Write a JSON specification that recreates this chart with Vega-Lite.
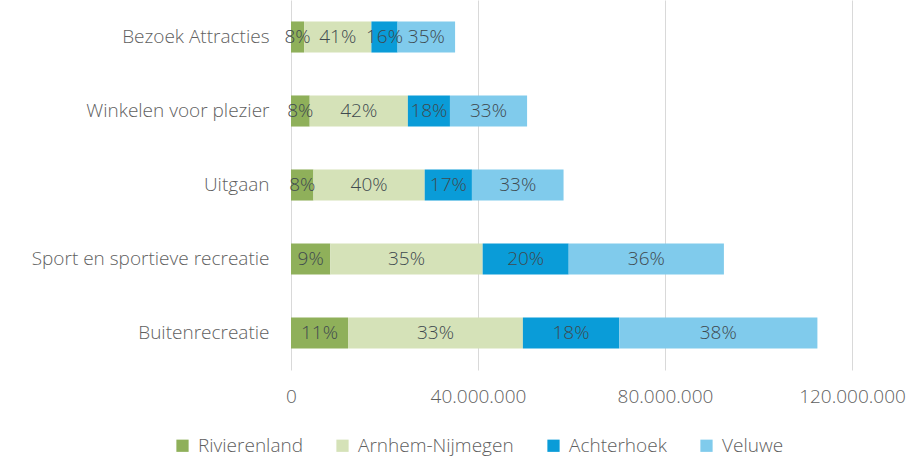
{
  "$schema": "https://vega.github.io/schema/vega-lite/v6.json",
  "width": 561,
  "height": 370,
  "autosize": "none",
  "padding": {"left": 291, "top": 0, "right": 63, "bottom": 92},
  "background": "white",
  "config": {
    "locale": {"number": {"decimal": ",", "thousands": ".", "grouping": [3], "currency": ["€", ""]}},
    "view": {"stroke": null},
    "font": "Open Sans"
  },
  "data": {
    "values": [
      {"activiteit": "Bezoek Attracties", "regio": "Rivierenland", "ord": 1, "waarde": 2800000, "pct": "8%"},
      {"activiteit": "Bezoek Attracties", "regio": "Arnhem-Nijmegen", "ord": 2, "waarde": 14400000, "pct": "41%"},
      {"activiteit": "Bezoek Attracties", "regio": "Achterhoek", "ord": 3, "waarde": 5600000, "pct": "16%"},
      {"activiteit": "Bezoek Attracties", "regio": "Veluwe", "ord": 4, "waarde": 12300000, "pct": "35%"},
      {"activiteit": "Winkelen voor plezier", "regio": "Rivierenland", "ord": 1, "waarde": 4000000, "pct": "8%"},
      {"activiteit": "Winkelen voor plezier", "regio": "Arnhem-Nijmegen", "ord": 2, "waarde": 21000000, "pct": "42%"},
      {"activiteit": "Winkelen voor plezier", "regio": "Achterhoek", "ord": 3, "waarde": 9000000, "pct": "18%"},
      {"activiteit": "Winkelen voor plezier", "regio": "Veluwe", "ord": 4, "waarde": 16500000, "pct": "33%"},
      {"activiteit": "Uitgaan", "regio": "Rivierenland", "ord": 1, "waarde": 4800000, "pct": "8%"},
      {"activiteit": "Uitgaan", "regio": "Arnhem-Nijmegen", "ord": 2, "waarde": 23800000, "pct": "40%"},
      {"activiteit": "Uitgaan", "regio": "Achterhoek", "ord": 3, "waarde": 10100000, "pct": "17%"},
      {"activiteit": "Uitgaan", "regio": "Veluwe", "ord": 4, "waarde": 19600000, "pct": "33%"},
      {"activiteit": "Sport en sportieve recreatie", "regio": "Rivierenland", "ord": 1, "waarde": 8400000, "pct": "9%"},
      {"activiteit": "Sport en sportieve recreatie", "regio": "Arnhem-Nijmegen", "ord": 2, "waarde": 32600000, "pct": "35%"},
      {"activiteit": "Sport en sportieve recreatie", "regio": "Achterhoek", "ord": 3, "waarde": 18400000, "pct": "20%"},
      {"activiteit": "Sport en sportieve recreatie", "regio": "Veluwe", "ord": 4, "waarde": 33200000, "pct": "36%"},
      {"activiteit": "Buitenrecreatie", "regio": "Rivierenland", "ord": 1, "waarde": 12200000, "pct": "11%"},
      {"activiteit": "Buitenrecreatie", "regio": "Arnhem-Nijmegen", "ord": 2, "waarde": 37400000, "pct": "33%"},
      {"activiteit": "Buitenrecreatie", "regio": "Achterhoek", "ord": 3, "waarde": 20600000, "pct": "18%"},
      {"activiteit": "Buitenrecreatie", "regio": "Veluwe", "ord": 4, "waarde": 42400000, "pct": "38%"}
    ]
  },
  "transform": [
    {"stack": "waarde", "groupby": ["activiteit"], "sort": [{"field": "ord", "order": "ascending"}], "as": ["x0", "x1"]},
    {"calculate": "(datum.x0 + datum.x1) / 2", "as": "mid"}
  ],
  "encoding": {
    "y": {
      "field": "activiteit",
      "type": "nominal",
      "sort": ["Bezoek Attracties", "Winkelen voor plezier", "Uitgaan", "Sport en sportieve recreatie", "Buitenrecreatie"],
      "scale": {"paddingInner": 0.58, "paddingOuter": 0.29},
      "axis": {
        "title": null,
        "domain": false,
        "ticks": false,
        "labelPadding": 22,
        "labelFontSize": 19,
        "labelFontWeight": 300,
        "labelColor": "#5f5f5f",
        "labelFont": "Open Sans",
        "labelLimit": 300
      }
    }
  },
  "layer": [
    {
      "mark": {"type": "bar"},
      "encoding": {
        "x": {
          "field": "x0",
          "type": "quantitative",
          "scale": {"domain": [0, 120000000], "nice": false},
          "axis": {
            "title": null,
            "values": [0, 40000000, 80000000, 120000000],
            "format": ",d",
            "domain": false,
            "ticks": false,
            "grid": true,
            "gridColor": "#d9d9d9",
            "gridWidth": 1,
            "labelFlush": false,
            "labelPadding": 17,
            "labelFontSize": 19,
            "labelFontWeight": 300,
            "labelColor": "#5f5f5f",
            "labelFont": "Open Sans"
          }
        },
        "x2": {"field": "x1"},
        "color": {
          "field": "regio",
          "type": "nominal",
          "scale": {
            "domain": ["Rivierenland", "Arnhem-Nijmegen", "Achterhoek", "Veluwe"],
            "range": ["#8fb05a", "#d5e2b8", "#0a9cd8", "#80cbec"]
          },
          "legend": {
            "title": null,
            "orient": "none",
            "direction": "horizontal",
            "legendX": -118,
            "legendY": 436,
            "symbolType": "square",
            "symbolSize": 150,
            "symbolStrokeWidth": 0,
            "labelFontSize": 19,
            "labelFontWeight": 300,
            "labelColor": "#5f5f5f",
            "labelFont": "Open Sans",
            "labelOffset": 6,
            "columnPadding": 30
          }
        }
      }
    },
    {
      "mark": {"type": "text", "fontSize": 19, "fontWeight": 300, "color": "#3f4a4f", "font": "Open Sans", "align": "center", "baseline": "middle"},
      "encoding": {
        "x": {"field": "mid", "type": "quantitative"},
        "text": {"field": "pct", "type": "nominal"}
      }
    }
  ]
}
